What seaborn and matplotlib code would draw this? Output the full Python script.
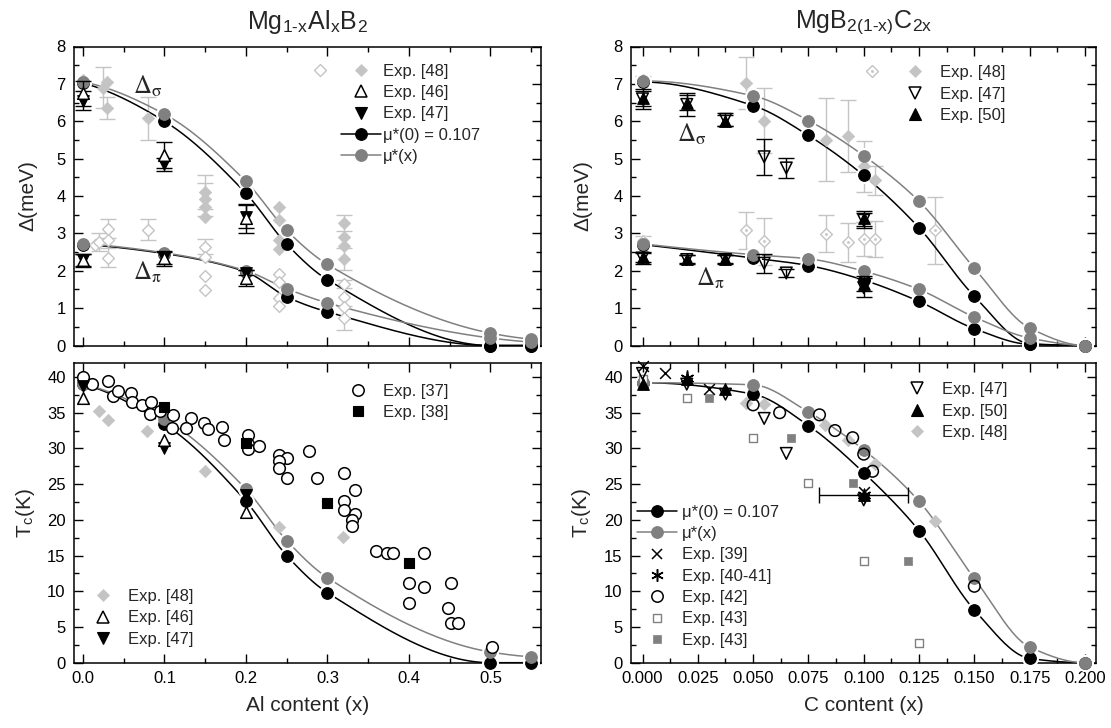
import numpy as np
import matplotlib
matplotlib.use("Agg")
import matplotlib.pyplot as plt
import seaborn as sns
from matplotlib.lines import Line2D
from matplotlib.legend import Legend
from matplotlib.legend_handler import HandlerBase
from matplotlib.ticker import MultipleLocator, FormatStrFormatter

# ---------------- Mg(1-x)Al(x)B2 : calculated gaps and Tc ----------------
al_x_theory = [0.0, 0.1, 0.2, 0.25, 0.3, 0.5, 0.55]
al_sigma_mu0 = [7.02, 6.0, 4.07, 2.71, 1.76, 0.0, 0.0]
al_sigma_mux = [7.05, 6.19, 4.39, 3.08, 2.17, 0.33, 0.17]
al_pi_mu0 = [2.7, 2.46, 1.97, 1.3, 0.9, 0.0, 0.0]
al_pi_mux = [2.72, 2.48, 2.0, 1.52, 1.14, 0.2, 0.09]
al_tc_mu0 = [39.0, 33.4, 22.6, 15.0, 9.8, 0.0, 0.0]
al_tc_mux = [39.0, 34.1, 24.3, 17.1, 11.9, 1.5, 0.84]

# ---------------- Mg(1-x)Al(x)B2 : measured gaps ----------------
al48_sig_x = [0.0, 0.025, 0.03, 0.03, 0.08, 0.15, 0.15, 0.15, 0.15, 0.24, 0.24, 0.24, 0.24, 0.32, 0.32, 0.32, 0.32]
al48_sig = [7.1, 6.9, 7.05, 6.35, 6.08, 4.11, 3.91, 3.71, 3.44, 3.71, 3.35, 2.81, 2.59, 3.28, 2.9, 2.65, 2.32]
al48_sig_err = [0.0, 0.55, 0.0, 0.3, 0.58, 0.45, 0.45, 0.0, 0.0, 0.0, 0.0, 0.0, 0.0, 0.22, 0.0, 0.0, 0.3]
al48_pi_x = [0.015, 0.02, 0.031, 0.031, 0.031, 0.08, 0.15, 0.15, 0.15, 0.15, 0.24, 0.24, 0.24, 0.24, 0.32, 0.32, 0.32, 0.32]
al48_pi = [2.68, 2.77, 3.13, 2.82, 2.35, 3.1, 2.64, 2.37, 1.85, 1.49, 1.9, 1.7, 1.27, 1.05, 1.65, 1.3, 1.03, 0.74]
al48_pi_err = [0.0, 0.25, 0.25, 0.0, 0.25, 0.29, 0.2, 0.0, 0.0, 0.0, 0.0, 0.0, 0.0, 0.0, 0.1, 0.0, 0.0, 0.32]
al46_x = [0.0, 0.1, 0.2]
al46_sig = [6.75, 5.1, 3.4]
al46_sig_err = [0.33, 0.35, 0.38]
al46_pi = [2.28, 2.33, 1.8]
al46_pi_err = [0.18, 0.2, 0.22]
al47_x = [0.0, 0.1, 0.2]
al47_sig = [6.55, 4.85, 3.45]
al47_sig_err = [0.25, 0.18, 0.3]
al47_pi = [2.3, 2.35, 1.95]
al47_pi_err = [0.16, 0.16, 0.06]

# ---------------- Mg(1-x)Al(x)B2 : measured Tc ----------------
al37_x = [0.0, 0.011, 0.031, 0.037, 0.043, 0.059, 0.06, 0.072, 0.083, 0.082, 0.094, 0.111,
          0.109, 0.133, 0.127, 0.148, 0.154, 0.17, 0.173, 0.203, 0.202, 0.202, 0.216, 0.24,
          0.25, 0.24, 0.24, 0.25, 0.277, 0.287, 0.32, 0.334, 0.32, 0.32, 0.334, 0.33, 0.33,
          0.36, 0.373, 0.38, 0.418, 0.4, 0.418, 0.4, 0.451, 0.448, 0.451, 0.46, 0.502]
al37_tc = [40.0, 39.05, 39.4, 37.3, 38.1, 37.8, 36.5, 36.1, 36.5, 34.8, 35.2, 34.7,
           32.8, 34.2, 32.8, 33.6, 32.7, 33.0, 31.2, 31.9, 30.6, 29.9, 30.4, 29.1,
           28.6, 28.2, 27.3, 25.9, 29.7, 25.9, 26.5, 24.2, 22.6, 21.4, 20.8, 20.0, 19.2,
           15.7, 15.3, 15.3, 15.3, 11.1, 10.6, 8.3, 11.1, 7.6, 5.6, 5.6, 2.2]
al38_x = [0.1, 0.2, 0.3, 0.4]
al38_tc = [35.8, 30.8, 22.3, 13.9]
al48_tc_x = [0.02, 0.031, 0.079, 0.15, 0.24, 0.319]
al48_tc = [35.3, 34.0, 32.5, 26.9, 19.0, 17.6]
al46_tc = [37.0, 31.2, 21.1]
al47_tc = [38.7, 30.0, 23.5]

# ---------------- MgB2(1-x)C2x : calculated gaps and Tc ----------------
c_x_theory = [0.0, 0.05, 0.075, 0.1, 0.125, 0.15, 0.175, 0.2]
c_sigma_mu0 = [7.05, 6.42, 5.62, 4.55, 3.15, 1.32, 0.05, 0.0]
c_sigma_mux = [7.08, 6.68, 6.02, 5.08, 3.86, 2.07, 0.47, 0.0]
c_pi_mu0 = [2.7, 2.34, 2.14, 1.75, 1.18, 0.45, 0.03, 0.0]
c_pi_mux = [2.72, 2.43, 2.32, 1.99, 1.5, 0.76, 0.2, 0.0]
c_tc_mu0 = [39.2, 37.6, 33.2, 26.6, 18.5, 7.4, 0.6, 0.0]
c_tc_mux = [39.2, 38.9, 35.1, 29.8, 22.6, 11.8, 2.2, 0.0]

# ---------------- MgB2(1-x)C2x : measured gaps ----------------
c48_sig_x = [0.0, 0.047, 0.055, 0.083, 0.093, 0.1, 0.105]
c48_sig = [7.1, 7.02, 6.02, 5.51, 5.6, 4.79, 4.42]
c48_sig_err = [0.12, 0.7, 0.87, 1.1, 0.96, 0.69, 0.38]
c48_pi_x = [0.0, 0.047, 0.055, 0.083, 0.093, 0.1, 0.105, 0.132]
c48_pi = [2.8, 3.08, 2.79, 2.99, 2.76, 2.85, 2.85, 3.08]
c48_pi_err = [0.12, 0.49, 0.63, 0.49, 0.53, 0.45, 0.47, 0.9]
c47_x = [0.0, 0.02, 0.0375, 0.055, 0.065, 0.1]
c47_sig = [6.6, 6.45, 6.05, 5.05, 4.75, 3.35]
c47_sig_err = [0.27, 0.3, 0.18, 0.48, 0.28, 0.2]
c47_pi = [2.34, 2.3, 2.3, 2.2, 1.94, 1.55]
c47_pi_err = [0.16, 0.12, 0.12, 0.25, 0.1, 0.25]
c50_x = [0.0, 0.02, 0.0375, 0.1]
c50_sig = [6.62, 6.5, 6.02, 3.4]
c50_sig_err = [0.2, 0.2, 0.15, 0.2]
c50_pi = [2.36, 2.32, 2.32, 1.65]
c50_pi_err = [0.12, 0.1, 0.1, 0.2]

# ---------------- MgB2(1-x)C2x : measured Tc ----------------
c39_x = [0.0, 0.01, 0.03, 0.1]
c39_tc = [41.6, 40.6, 38.3, 23.9]
c40_x = [0.02, 0.1]
c40_tc = [39.9, 23.5]
c40_xerr = [0.0, 0.02]
c42_x = [0.05, 0.062, 0.08, 0.087, 0.095, 0.1, 0.104, 0.15]
c42_tc = [36.1, 35.0, 34.7, 32.5, 31.5, 29.2, 26.8, 10.7]
c43_open_x = [0.0, 0.02, 0.05, 0.075, 0.1, 0.125]
c43_open_tc = [39.7, 37.0, 31.4, 25.2, 14.2, 2.8]
c43_full_x = [0.03, 0.067, 0.095, 0.12]
c43_full_tc = [37.0, 31.4, 25.2, 14.3]
c47_tc = [40.5, 39.0, 37.6, 34.2, 29.3, 22.8]
c50_tc = [39.0, 39.7, 38.3, 23.5]
c48_tc_x = [0.047, 0.055, 0.0824, 0.093, 0.105, 0.132]
c48_tc = [36.4, 36.2, 33.3, 31.2, 27.8, 19.9]

# ---------------- styling ----------------
W, H = 1111, 728
sns.set_theme(style="ticks")
plt.rcParams["font.family"] = ["Liberation Sans", "DejaVu Sans"]
plt.rcParams["mathtext.fontset"] = "stix"

BLACK = "#000000"
MID = "#808080"
LIGHT = "#c4c4c4"

fig = plt.figure(figsize=(W / 100, H / 100), dpi=100)


def px_axes(left, top, right, bottom):
    return fig.add_axes([left / W, 1 - bottom / H, (right - left) / W, (bottom - top) / H])


ax_al_gap = px_axes(74, 46.5, 541, 345.5)
ax_al_tc = px_axes(74, 362.7, 541, 662.7)
ax_c_gap = px_axes(631, 46.5, 1096, 345.5)
ax_c_tc = px_axes(631, 362.7, 1096, 662.7)


def smooth_curve(xk, yk, n=300):
    """Shape-preserving cubic (PCHIP) path through the calculated points."""
    xk = np.asarray(xk, float)
    yk = np.asarray(yk, float)
    h = np.diff(xk)
    d = np.diff(yk) / h
    m = np.zeros_like(yk)
    for k in range(1, len(xk) - 1):
        if d[k - 1] * d[k] > 0:
            w1 = 2 * h[k] + h[k - 1]
            w2 = h[k] + 2 * h[k - 1]
            m[k] = (w1 + w2) / (w1 / d[k - 1] + w2 / d[k])

    def end_slope(h0, h1, d0, d1):
        s = ((2 * h0 + h1) * d0 - h0 * d1) / (h0 + h1)
        if np.sign(s) != np.sign(d0):
            return 0.0
        if np.sign(d0) != np.sign(d1) and abs(s) > abs(3 * d0):
            return 3 * d0
        return s

    m[0] = end_slope(h[0], h[1], d[0], d[1])
    m[-1] = end_slope(h[-1], h[-2], d[-1], d[-2])
    xs = np.linspace(xk[0], xk[-1], n)
    idx = np.clip(np.searchsorted(xk, xs, side="right") - 1, 0, len(h) - 1)
    t = (xs - xk[idx]) / h[idx]
    h00 = 2 * t**3 - 3 * t**2 + 1
    h10 = t**3 - 2 * t**2 + t
    h01 = -2 * t**3 + 3 * t**2
    h11 = t**3 - t**2
    ys = h00 * yk[idx] + h10 * h[idx] * m[idx] + h01 * yk[idx + 1] + h11 * h[idx] * m[idx + 1]
    return xs, ys


def theory(ax, x, y, color, z):
    xs, ys = smooth_curve(x, y)
    sns.lineplot(x=xs, y=ys, ax=ax, color=color, linewidth=1.1, estimator=None,
                 sort=False, zorder=4, legend=False)
    sns.scatterplot(x=x, y=y, ax=ax, marker="o", s=150, color="white", linewidth=0,
                    zorder=5, legend=False, clip_on=False)
    sns.scatterplot(x=x, y=y, ax=ax, marker="o", s=70, color=color, edgecolor=color,
                    linewidth=0.8, zorder=z, legend=False, clip_on=False)


def points(ax, x, y, marker, s, face, edge, lw=1.0, z=7):
    sns.scatterplot(x=x, y=y, ax=ax, marker=marker, s=s, color=face, edgecolor=edge,
                    linewidth=lw, zorder=z, legend=False, clip_on=False)


def line_points(ax, x, y, marker, s, color, lw=1.1, z=7):
    sns.scatterplot(x=x, y=y, ax=ax, marker=marker, s=s, color=color,
                    linewidth=lw, zorder=z, legend=False, clip_on=False)


def ybars(ax, x, y, err, color, z=2):
    sel = [i for i, e in enumerate(err) if e > 0]
    if not sel:
        return
    ax.errorbar([x[i] for i in sel], [y[i] for i in sel], yerr=[err[i] for i in sel],
                fmt="none", ecolor=color, elinewidth=1.0, capsize=6, capthick=1.0, zorder=z)


# ---------------- panel: Al gaps ----------------
ax = ax_al_gap
ybars(ax, al48_sig_x, al48_sig, al48_sig_err, LIGHT)
ybars(ax, al48_pi_x, al48_pi, al48_pi_err, LIGHT)
points(ax, al48_sig_x, al48_sig, "D", 40, LIGHT, LIGHT, 0.5, z=5.5)
points(ax, al48_pi_x, al48_pi, "D", 36, "white", LIGHT, 1.0, z=5.5)
for y in (al_sigma_mu0, al_pi_mu0):
    theory(ax, al_x_theory, y, BLACK, 6)
for y in (al_sigma_mux, al_pi_mux):
    theory(ax, al_x_theory, y, MID, 6.2)
ybars(ax, al46_x, al46_sig, al46_sig_err, BLACK, z=7)
ybars(ax, al46_x, al46_pi, al46_pi_err, BLACK, z=7)
ybars(ax, al47_x, al47_sig, al47_sig_err, BLACK, z=7)
ybars(ax, al47_x, al47_pi, al47_pi_err, BLACK, z=7)
points(ax, al47_x, al47_sig, "v", 70, BLACK, BLACK, 0.8, z=8)
points(ax, al47_x, al47_pi, "v", 70, BLACK, BLACK, 0.8, z=8)
points(ax, al46_x, al46_sig, "^", 70, "white", BLACK, 1.1, z=8.5)
points(ax, al46_x, al46_pi, "^", 70, "white", BLACK, 1.1, z=8.5)
ax.text(0.061, 6.75, r"$\Delta_{\mathrm{\sigma}}$", fontsize=18, ha="left", va="baseline", zorder=9)
ax.text(0.061, 1.76, r"$\Delta_{\mathrm{\pi}}$", fontsize=18, ha="left", va="baseline", zorder=9)

# ---------------- panel: Al Tc ----------------
ax = ax_al_tc
points(ax, al48_tc_x, al48_tc, "D", 40, LIGHT, LIGHT, 0.5, z=5.5)
theory(ax, al_x_theory, al_tc_mu0, BLACK, 6)
theory(ax, al_x_theory, al_tc_mux, MID, 6.2)
points(ax, al37_x, al37_tc, "o", 70, "white", BLACK, 1.1, z=7)
points(ax, al38_x, al38_tc, "s", 44, BLACK, BLACK, 0.8, z=7.5)
points(ax, al47_x, al47_tc, "v", 70, BLACK, BLACK, 0.8, z=8)
points(ax, al46_x, al46_tc, "^", 70, "white", BLACK, 1.1, z=8.5)

# ---------------- panel: C gaps ----------------
ax = ax_c_gap
ybars(ax, c48_sig_x, c48_sig, c48_sig_err, LIGHT)
ybars(ax, c48_pi_x, c48_pi, c48_pi_err, LIGHT)
points(ax, c48_sig_x, c48_sig, "D", 40, LIGHT, LIGHT, 0.5, z=5.5)
points(ax, c48_pi_x, c48_pi, "D", 36, "white", LIGHT, 1.0, z=5.5)
points(ax, c48_pi_x, c48_pi, "o", 3, LIGHT, LIGHT, 0.3, z=5.6)
for y in (c_sigma_mu0, c_pi_mu0):
    theory(ax, c_x_theory, y, BLACK, 6)
for y in (c_sigma_mux, c_pi_mux):
    theory(ax, c_x_theory, y, MID, 6.2)
for yy, ee in ((c47_sig, c47_sig_err), (c47_pi, c47_pi_err)):
    ybars(ax, c47_x, yy, ee, BLACK, z=7)
for yy, ee in ((c50_sig, c50_sig_err), (c50_pi, c50_pi_err)):
    ybars(ax, c50_x, yy, ee, BLACK, z=7)
points(ax, c50_x, c50_sig, "^", 70, BLACK, BLACK, 0.8, z=8)
points(ax, c50_x, c50_pi, "^", 70, BLACK, BLACK, 0.8, z=8)
points(ax, c47_x, c47_sig, "v", 70, "none", BLACK, 1.1, z=8.5)
points(ax, c47_x, c47_pi, "v", 70, "none", BLACK, 1.1, z=8.5)
ax.text(0.0154, 5.46, r"$\Delta_{\mathrm{\sigma}}$", fontsize=18, ha="left", va="baseline", zorder=9)
ax.text(0.0244, 1.59, r"$\Delta_{\mathrm{\pi}}$", fontsize=18, ha="left", va="baseline", zorder=9)

# ---------------- panel: C Tc ----------------
ax = ax_c_tc
points(ax, c48_tc_x, c48_tc, "D", 40, LIGHT, LIGHT, 0.5, z=5.5)
theory(ax, c_x_theory, c_tc_mu0, BLACK, 6)
theory(ax, c_x_theory, c_tc_mux, MID, 6.2)
points(ax, c42_x, c42_tc, "o", 70, "none", BLACK, 1.1, z=6.5)
points(ax, c43_open_x, c43_open_tc, "s", 40, "white", MID, 1.0, z=7)
points(ax, c43_full_x, c43_full_tc, "s", 40, MID, MID, 0.5, z=7)
ax.errorbar(c40_x, c40_tc, xerr=c40_xerr, fmt="none", ecolor=BLACK, elinewidth=1.0,
            capsize=6, capthick=1.0, zorder=7)
points(ax, c50_x, c50_tc, "^", 70, BLACK, BLACK, 0.8, z=8)
points(ax, c47_x, c47_tc, "v", 70, "none", BLACK, 1.1, z=8.5)
line_points(ax, c39_x, c39_tc, "x", 60, BLACK, z=9)
line_points(ax, c40_x, c40_tc, (6, 2, 0), 80, BLACK, z=9)

# ---------------- axes cosmetics ----------------
for ax in (ax_al_gap, ax_al_tc):
    ax.set_xlim(-0.011, 0.562)
    ax.xaxis.set_major_locator(MultipleLocator(0.1))
    ax.xaxis.set_minor_locator(MultipleLocator(0.05))
    ax.xaxis.set_major_formatter(FormatStrFormatter("%.1f"))
for ax in (ax_c_gap, ax_c_tc):
    ax.set_xlim(-0.0052, 0.205)
    ax.xaxis.set_major_locator(MultipleLocator(0.025))
    ax.xaxis.set_minor_locator(MultipleLocator(0.0125))
    ax.xaxis.set_major_formatter(FormatStrFormatter("%.3f"))
for ax in (ax_al_gap, ax_c_gap):
    ax.set_ylim(0, 8)
    ax.yaxis.set_major_locator(MultipleLocator(1))
    ax.yaxis.set_minor_locator(MultipleLocator(0.5))
    ax.tick_params(labelbottom=False)
    ax.set_ylabel("Δ(meV)", fontsize=15)
for ax in (ax_al_tc, ax_c_tc):
    ax.set_ylim(0, 42)
    ax.yaxis.set_major_locator(MultipleLocator(5))
    ax.yaxis.set_minor_locator(MultipleLocator(2.5))
    ax.set_ylabel(r"T$_\mathregular{c}$(K)", fontsize=15)

for ax in (ax_al_gap, ax_al_tc, ax_c_gap, ax_c_tc):
    ax.tick_params(which="both", direction="in", top=True, right=True, width=1.0,
                   colors=BLACK, labelsize=12, labelcolor=BLACK)
    ax.tick_params(axis="x", which="both", pad=6)
    ax.tick_params(axis="y", which="both", pad=6)
    ax.tick_params(which="major", length=6.5)
    ax.tick_params(which="minor", length=3.5)
    for sp in ax.spines.values():
        sp.set_visible(True)
        sp.set_linewidth(1.1)
        sp.set_color(BLACK)
    ax.set_xlabel("")

ax_al_gap.yaxis.set_label_coords(-0.079, 0.5)
ax_al_tc.yaxis.set_label_coords(-0.079, 0.5)
ax_c_gap.yaxis.set_label_coords(-0.082, 0.5)
ax_c_tc.yaxis.set_label_coords(-0.082, 0.5)
ax_al_tc.set_xlabel("Al content (x)", fontsize=15)
ax_c_tc.set_xlabel("C content (x)", fontsize=15)
ax_al_tc.xaxis.set_label_coords(0.5, -0.112)
ax_c_tc.xaxis.set_label_coords(0.5, -0.112)

fig.text(307.5 / W, 1 - 22 / H,
         r"Mg$_{\mathregular{1}\text{-}\mathregular{x}}$Al$_\mathregular{x}$B$_\mathregular{2}$",
         ha="center", va="center", fontsize=18)
fig.text(863.5 / W, 1 - 22 / H,
         r"MgB$_{\mathregular{2(1}\text{-}\mathregular{x)}}$C$_\mathregular{2x}$",
         ha="center", va="center", fontsize=18)


# ---------------- legends ----------------
class ShiftedMarkers(HandlerBase):
    """Draws several marker handles in one legend row, each shifted horizontally."""

    def __init__(self, shifts):
        super().__init__()
        self.shifts = shifts

    def create_artists(self, legend, orig_handle, xdescent, ydescent, width, height,
                       fontsize, trans):
        cx = width / 2 - xdescent
        cy = height / 2 - ydescent
        arts = []
        for h, sh in zip(orig_handle, self.shifts):
            a = Line2D([cx + sh * fontsize], [cy], ls="none", marker=h.get_marker(),
                       markersize=h.get_markersize(), markerfacecolor=h.get_markerfacecolor(),
                       markeredgecolor=h.get_markeredgecolor(),
                       markeredgewidth=h.get_markeredgewidth())
            a.set_transform(trans)
            arts.append(a)
        return arts


def mk(marker, ms, face, edge, mew=1.0, line=False):
    return Line2D([], [], ls="-" if line else "none", color=edge, linewidth=1.1,
                  marker=marker, markersize=ms, markerfacecolor=face,
                  markeredgecolor=edge, markeredgewidth=mew)


def add_legend(ax, handles, labels, left_px, top_px, pad=0.3, handler_map=None):
    leg = Legend(ax, handles, labels, loc="upper left",
                 bbox_to_anchor=(left_px / W, 1 - top_px / H), bbox_transform=fig.transFigure,
                 frameon=False, borderpad=0, borderaxespad=0, handlelength=2.4,
                 handletextpad=pad, labelspacing=0.38, fontsize=12, handler_map=handler_map)
    leg.set_zorder(10)
    ax.add_artist(leg)


h48_full = mk("D", 6.2, LIGHT, LIGHT, 0.5)
h48_open = mk("D", 6.0, "white", LIGHT, 1.0)
h48_dot = mk("o", 1.8, LIGHT, LIGHT, 0.3)
h_up_open = mk("^", 8.4, "white", BLACK, 1.1)
h_up_full = mk("^", 8.4, BLACK, BLACK, 0.8)
h_dn_open = mk("v", 8.4, "white", BLACK, 1.1)
h_dn_full = mk("v", 8.4, BLACK, BLACK, 0.8)
h_mu0 = mk("o", 8.4, BLACK, BLACK, 0.8, line=True)
h_mux = mk("o", 8.4, MID, MID, 0.8, line=True)

add_legend(ax_al_gap,
           [(h48_open, h48_full), h_up_open, h_dn_full, h_mu0, h_mux],
           ["Exp. [48]", "Exp. [46]", "Exp. [47]", "μ*(0) = 0.107", "μ*(x)"],
           341, 63.7, pad=0.12, handler_map={tuple: ShiftedMarkers([-2.46, 0.0])})
add_legend(ax_c_gap,
           [(h48_open, h48_dot, h48_full), h_dn_open, h_up_full],
           ["Exp. [48]", "Exp. [47]", "Exp. [50]"],
           895, 65.3, handler_map={tuple: ShiftedMarkers([-2.6, -2.6, 0.0])})
add_legend(ax_al_tc, [mk("o", 8.2, "white", BLACK, 1.1), mk("s", 6.6, BLACK, BLACK, 0.8)],
           ["Exp. [37]", "Exp. [38]"], 338, 383.7)
add_legend(ax_al_tc, [h48_full, h_up_open, h_dn_full],
           ["Exp. [48]", "Exp. [46]", "Exp. [47]"], 82.7, 589)
add_legend(ax_c_tc, [h_dn_open, h_up_full, h48_full],
           ["Exp. [47]", "Exp. [50]", "Exp. [48]"], 896.7, 382.3)
add_legend(ax_c_tc,
           [h_mu0, h_mux, mk("x", 7.7, BLACK, BLACK, 1.1), mk((6, 2, 0), 9, BLACK, BLACK, 1.1),
            mk("o", 8.2, "white", BLACK, 1.1), mk("s", 6.3, "white", MID, 1.0),
            mk("s", 6.3, MID, MID, 0.5)],
           ["μ*(0) = 0.107", "μ*(x)", "Exp. [39]", "Exp. [40-41]", "Exp. [42]", "Exp. [43]",
            "Exp. [43]"],
           636.7, 504.7)

fig.savefig("out.png", dpi=100)
